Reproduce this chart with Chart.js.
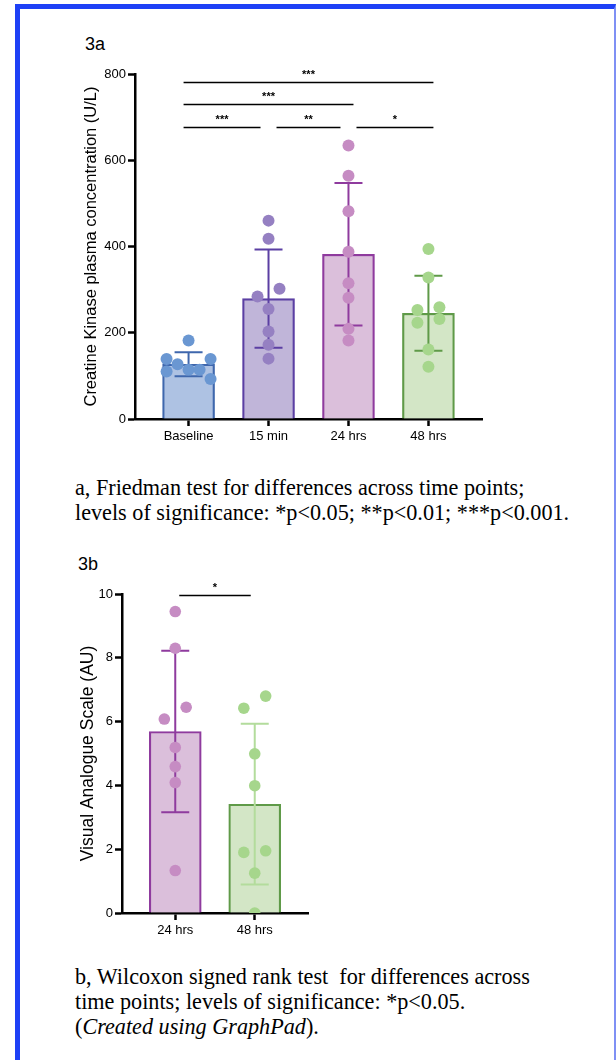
<!DOCTYPE html>
<html>
<head>
<meta charset="utf-8">
<script src="https://cdn.jsdelivr.net/npm/chart.js@4.4.1/dist/chart.umd.min.js"></script>
<style>
html, body { margin: 0; padding: 0; background: #fff; }
body { width: 616px; height: 1060px; position: relative; overflow: hidden; font-family: "Liberation Sans", Arial, sans-serif; }
#frame { position: absolute; left: 15px; top: 4px; width: 594px; height: 1100px; border-top: 5px solid #1e40f6; border-left: 5px solid #1e40f6; border-right: 2px solid #7f90f4; }
.panel { position: absolute; font-size: 18px; color: #000; }
.box { position: absolute; }
.caption { position: absolute; left: 75px; font-family: "Liberation Serif", "Times New Roman", serif; font-size: 22.2px; line-height: 25px; color: #000; white-space: pre; }
</style>
</head>
<body>
<div id="frame"></div>

<div class="panel" style="left:85px;top:34px">3a</div>
<div class="box" style="left:55px;top:55px"><canvas id="chartA" width="435" height="395"></canvas></div>
<div class="caption" style="top:475px">a, Friedman test for differences across time points;
levels of significance: *p&lt;0.05; **p&lt;0.01; ***p&lt;0.001.</div>

<div class="panel" style="left:78px;top:554px">3b</div>
<div class="box" style="left:55px;top:575px"><canvas id="chartB" width="261" height="369"></canvas></div>
<div class="caption" style="top:964px">b, Wilcoxon signed rank test  for differences across
time points; levels of significance: *p&lt;0.05.
(<i>Created using GraphPad</i>).</div>

<script>
// 3a - creatine kinase, mean +/- SD with individual subjects
const groupsA = ['Baseline', '15 min', '24 hrs', '48 hrs'];
const meanA = [127, 279, 382, 245];
const sdA = [28, 114, 165, 87];
const ckBaseline = [182, 139, 139, 127, 114, 114, 110, 93];
const ck15min = [460, 418, 302, 284, 255, 203, 172, 140];
const ck24hrs = [634, 564, 482, 388, 315, 281, 209, 182];
const ck48hrs = [394, 328, 259, 253, 232, 223, 161, 121];
// which side-by-side slot each dot sits in (GraphPad spreads equal values)
const laneBaseline = [0, -2, 2, -1, 0, 1, -2, 2];
const lane15min = [0, 0, 1, -1, 0, 0, 0, 0];
const lane24hrs = [0, 0, 0, 0, 0, 0, 0, 0];
const lane48hrs = [0, 0, 1, -1, 1, -1, 0, 0];
const sigA = [
  { from: 0, to: 3, y: 781, label: '***' },
  { from: 0, to: 2, y: 730, label: '***' },
  { from: 0, to: 1, y: 677, label: '***' },
  { from: 1, to: 2, y: 677, label: '**' },
  { from: 2, to: 3, y: 677, label: '*' }
];

// 3b - visual analogue scale
const groupsB = ['24 hrs', '48 hrs'];
const meanB = [5.69, 3.41];
const sdB = [2.53, 2.52];
const vas24hrs = [9.45, 8.3, 6.45, 6.08, 5.19, 4.59, 4.09, 1.33];
const vas48hrs = [6.8, 6.42, 4.99, 3.99, 1.95, 1.9, 1.25, 0];
const laneVas24 = [0, 0, 1, -1, 0, 0, 0, 0];
const laneVas48 = [1, -1, 0, 0, 1, -1, 0, 0];
const sigB = [{ from: 0, to: 1, y: 9.97, label: '*' }];

const BLUE = { fill: '#aec2e3', edge: '#3f67ad', dot: '#6a97d2' };
const PURPLE = { fill: '#c0b5d9', edge: '#5b3fa3', dot: '#9580c2' };
const PINK = { fill: '#dbbfdb', edge: '#8f3b9e', dot: '#c68cc3' };
const GREEN = { fill: '#d3e6c6', edge: '#5f9a48', dot: '#a6d68c' };

Chart.defaults.font.family = '"Liberation Sans", Arial, sans-serif';
Chart.defaults.color = '#000';

const errorBars = {
  id: 'errorBars',
  afterDatasetDraw(chart, args, opts) {
    if (args.index !== 0) return;
    const { ctx, scales: { x, y } } = chart;
    ctx.save();
    ctx.lineWidth = 2;
    opts.means.forEach((m, i) => {
      const cx = x.getPixelForValue(i);
      const top = y.getPixelForValue(m + opts.sd[i]);
      const bot = y.getPixelForValue(m - opts.sd[i]);
      ctx.strokeStyle = opts.colors[i];
      ctx.beginPath();
      ctx.moveTo(cx, top); ctx.lineTo(cx, bot);
      ctx.moveTo(cx - 14, top); ctx.lineTo(cx + 14, top);
      ctx.moveTo(cx - 14, bot); ctx.lineTo(cx + 14, bot);
      ctx.stroke();
    });
    ctx.restore();
  }
};

const brackets = {
  id: 'brackets',
  afterDraw(chart, args, opts) {
    const { ctx, scales: { x, y } } = chart;
    ctx.save();
    ctx.strokeStyle = '#000';
    ctx.fillStyle = '#000';
    ctx.lineWidth = 1.6;
    ctx.font = 'bold 11px "Liberation Sans", Arial, sans-serif';
    ctx.textAlign = 'center';
    ctx.textBaseline = 'middle';
    opts.list.forEach(b => {
      const row = opts.list.filter(o => o !== b && o.y === b.y);
      let x1 = x.getPixelForValue(b.from) - opts.ext;
      let x2 = x.getPixelForValue(b.to) + opts.ext;
      if (row.some(o => o.to === b.from)) x1 = x.getPixelForValue(b.from) + 8;
      if (row.some(o => o.from === b.to)) x2 = x.getPixelForValue(b.to) - 8;
      const ly = Math.round(y.getPixelForValue(b.y)) + 0.5;
      ctx.beginPath();
      ctx.moveTo(x1, ly);
      ctx.lineTo(x2, ly);
      ctx.stroke();
      ctx.fillText(b.label, (x1 + x2) / 2, ly - 8);
    });
    ctx.restore();
  }
};

function makeChart(id, c) {
  const laneStep = 11 / 80; // one dot slot, in category units
  const datasets = [{
    type: 'bar',
    data: c.means.map((m, i) => ({ x: i, y: m })),
    backgroundColor: c.colors.map(k => k.fill),
    borderColor: c.colors.map(k => k.edge),
    borderWidth: 2.2,
    barThickness: 52,
    order: 2
  }];
  c.points.forEach((vals, i) => {
    datasets.push({
      type: 'scatter',
      data: vals.map((v, k) => ({ x: i + c.lanes[i][k] * laneStep, y: v })),
      backgroundColor: c.colors[i].dot,
      borderWidth: 0,
      pointRadius: c.r,
      pointHoverRadius: c.r,
      order: 1
    });
  });
  const axisLine = { display: true, color: '#000', width: 2.5 };
  const tickMarks = { display: true, drawOnChartArea: false, drawTicks: true, tickLength: 7, tickWidth: 2.5, tickColor: '#000', offset: false };
  const n = c.groups.length;
  return new Chart(document.getElementById(id), {
    type: 'bar',
    data: { datasets },
    options: {
      responsive: false,
      animation: false,
      layout: { padding: { top: 19, right: 8, left: 0, bottom: 0 } },
      plugins: {
        legend: { display: false },
        tooltip: { enabled: false },
        errorBars: { means: c.means, sd: c.sd, colors: c.errColors },
        brackets: { list: c.sig, ext: c.ext }
      },
      scales: {
        x: {
          type: 'linear',
          offset: false,
          min: -0.67,
          max: n - 1 + 0.67,
          afterBuildTicks: s => { s.ticks = c.groups.map((g, i) => ({ value: i })); },
          afterFit: s => { s.height = 31; },
          ticks: { callback: v => c.groups[v], font: { size: 13 }, padding: 3, maxRotation: 0, autoSkip: false },
          grid: tickMarks,
          border: axisLine
        },
        y: {
          min: 0,
          max: c.ymax,
          afterFit: s => { s.width = c.yw; },
          ticks: { stepSize: c.step, font: { size: 13 }, padding: 2 },
          grid: tickMarks,
          border: axisLine,
          title: { display: true, text: c.ytitle, font: { size: c.tsize }, padding: { top: c.tpad, bottom: 0 } }
        }
      }
    },
    plugins: [errorBars, brackets]
  });
}

makeChart('chartA', {
  groups: groupsA, means: meanA, sd: sdA,
  points: [ckBaseline, ck15min, ck24hrs, ck48hrs],
  lanes: [laneBaseline, lane15min, lane24hrs, lane48hrs],
  colors: [BLUE, PURPLE, PINK, GREEN],
  errColors: [BLUE.edge, PURPLE.edge, PINK.edge, GREEN.edge],
  sig: sigA, ext: 5, r: 6,
  ymax: 800, step: 200, yw: 80,
  ytitle: 'Creatine Kinase plasma concentration (U/L)', tsize: 16.5, tpad: 27
});

makeChart('chartB', {
  groups: groupsB, means: meanB, sd: sdB,
  points: [vas24hrs, vas48hrs],
  lanes: [laneVas24, laneVas48],
  colors: [PINK, GREEN],
  errColors: [PINK.edge, '#b3dc9c'],
  sig: sigB, ext: -4, r: 5.8,
  ymax: 10, step: 2, yw: 67,
  ytitle: 'Visual Analogue Scale (AU)', tsize: 17.5, tpad: 23
});
</script>
</body>
</html>
